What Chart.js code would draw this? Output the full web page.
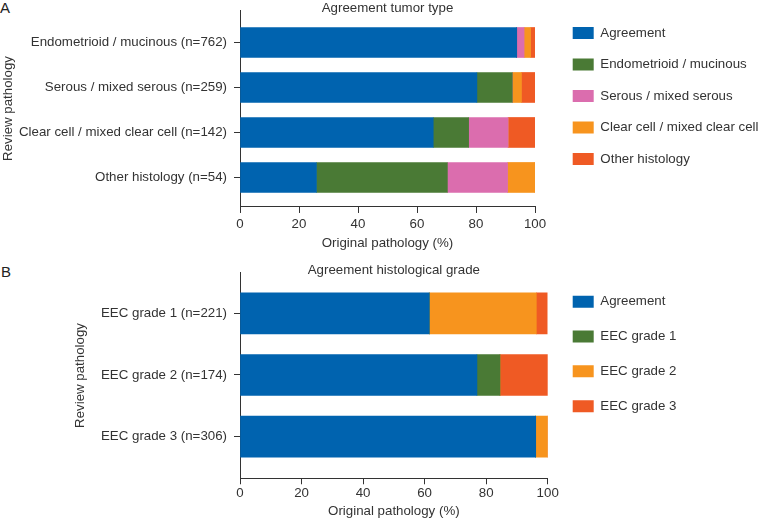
<!DOCTYPE html>
<html>
<head>
<meta charset="utf-8">
<script src="https://cdn.jsdelivr.net/npm/chart.js@4"></script>
<style>
  html, body { margin: 0; padding: 0; background: #ffffff; }
  body { width: 760px; height: 520px; position: relative; overflow: hidden; font-family: "Liberation Sans", Arial, sans-serif; }
  canvas { position: absolute; left: 0; }
  #cA { top: 0; }
  #cB { top: 250px; }
  .panel { position: absolute; font-size: 15px; line-height: 15px; color: #222; }
</style>
</head>
<body>
<div class="panel" style="left:0px;top:0px;">A</div>
<div class="panel" style="left:1px;top:264px;">B</div>
<canvas id="cA" width="760" height="255"></canvas>
<canvas id="cB" width="760" height="270"></canvas>
<script>
// ---------- Data: panel A (tumor type) ----------
const categoriesA = [
  'Endometrioid / mucinous (n=762)',
  'Serous / mixed serous (n=259)',
  'Clear cell / mixed clear cell (n=142)',
  'Other histology (n=54)'
];
const seriesNamesA = ['Agreement', 'Endometrioid / mucinous', 'Serous / mixed serous', 'Clear cell / mixed clear cell', 'Other histology'];
const agreementA   = [93.8, 80.3, 65.5, 25.9];
const endometrioidA = [0, 12.0, 12.0, 44.4];
const serousA      = [2.5, 0, 13.4, 20.4];
const clearCellA   = [2.2, 3.1, 0, 9.3];
const otherA       = [1.4, 4.6, 9.2, 0];

// ---------- Data: panel B (histological grade) ----------
const categoriesB = [
  'EEC grade 1 (n=221)',
  'EEC grade 2 (n=174)',
  'EEC grade 3 (n=306)'
];
const seriesNamesB = ['Agreement', 'EEC grade 1', 'EEC grade 2', 'EEC grade 3'];
const agreementB = [61.5, 77.0, 96.1];
const grade1B    = [0, 7.5, 0];
const grade2B    = [34.8, 0, 3.9];
const grade3B    = [3.6, 15.5, 0];

const xTicks = [0, 20, 40, 60, 80, 100];

// ---------- Styling ----------
const COLORS = {
  blue: '#0063AF',
  green: '#4A7A35',
  pink: '#DB6DAE',
  orange: '#F7941E',
  red: '#EF5A24'
};
const TEXT = '#333333';
const AXIS = '#333333';
const FS = 13.3;

Chart.defaults.font.family = '"Liberation Sans", Arial, Helvetica, sans-serif';
Chart.defaults.font.size = FS;
Chart.defaults.color = TEXT;

const legendPlace = {
  id: 'legendPlace',
  afterLayout(chart, args, opts) {
    const lg = chart.legend;
    if (!lg) return;
    const pad = lg.options.labels.padding;
    const w = lg.width, h = lg.height;
    lg.left = opts.x - pad;
    lg.top = opts.y - pad;
    lg.right = lg.left + w;
    lg.bottom = lg.top + h;
  }
};

function makeDatasets(names, arrays, colors) {
  return names.map((name, k) => ({
    label: name,
    data: arrays[k].map((v, i) => ({ x: v, y: i })),
    backgroundColor: colors[k],
    borderWidth: 0
  }));
}

function makeChart(canvasId, cfg) {
  return new Chart(document.getElementById(canvasId), {
    type: 'bar',
    data: { datasets: makeDatasets(cfg.names, cfg.arrays, cfg.colors) },
    plugins: [legendPlace],
    options: {
      indexAxis: 'y',
      responsive: false,
      animation: false,
      devicePixelRatio: 1,
      datasets: { bar: { barThickness: cfg.barThickness } },
      layout: { padding: cfg.layoutPadding },
      scales: {
        x: {
          type: 'linear',
          stacked: true,
          min: 0,
          max: 100,
          offset: false,
          afterBuildTicks: (s) => { s.ticks = xTicks.map(v => ({ value: v })); },
          ticks: { padding: cfg.xTickPadding, color: TEXT, font: { size: FS } },
          grid: { offset: false, drawOnChartArea: false, drawTicks: true, tickLength: 6, color: AXIS },
          border: { display: true, color: AXIS, width: 1 },
          title: { display: true, text: 'Original pathology (%)', color: TEXT, font: { size: FS }, padding: cfg.xTitlePadding }
        },
        y: {
          type: 'linear',
          stacked: true,
          reverse: true,
          offset: false,
          min: cfg.yMin,
          max: cfg.yMax,
          afterBuildTicks: (s) => { s.ticks = cfg.categories.map((_, i) => ({ value: i })); },
          afterFit: (s) => { s.width = 240; s.paddingTop = 0; s.paddingBottom = 0; },
          ticks: { autoSkip: false, padding: 7, color: TEXT, font: { size: FS }, callback: (v) => cfg.categories[v] },
          grid: { offset: false, drawOnChartArea: false, drawTicks: true, tickLength: 6, color: AXIS },
          border: { display: true, color: AXIS, width: 1 },
          title: { display: true, text: 'Review pathology', color: TEXT, font: { size: FS }, padding: { top: cfg.yTitleOffset, bottom: 0 } }
        }
      },
      plugins: {
        title: {
          display: true,
          text: cfg.title,
          fullSize: false,
          color: TEXT,
          font: { size: FS, weight: 'normal' },
          padding: cfg.titlePadding
        },
        legend: {
          display: true,
          position: 'chartArea',
          align: 'start',
          labels: {
            boxWidth: 21,
            boxHeight: 12,
            padding: cfg.legendPadding,
            color: TEXT,
            font: { size: FS }
          }
        },
        legendPlace: { x: 572.7, y: cfg.legendY },
        tooltip: { enabled: false }
      }
    }
  });
}

makeChart('cA', {
  categories: categoriesA,
  names: seriesNamesA,
  arrays: [agreementA, endometrioidA, serousA, clearCellA, otherA],
  colors: [COLORS.blue, COLORS.green, COLORS.pink, COLORS.orange, COLORS.red],
  title: 'Agreement tumor type',
  barThickness: 30,
  yMin: -0.722,
  yMax: 3.656,
  layoutPadding: { left: 0, right: 225, top: 0, bottom: 3.7 },
  xTickPadding: 3,
  xTitlePadding: { top: 0.4, bottom: 0 },
  yTitleOffset: 0.3,
  titlePadding: { top: 0, bottom: -5.96 },
  legendPadding: 18.2,
  legendY: 26.35
});

makeChart('cB', {
  categories: categoriesB,
  names: seriesNamesB,
  arrays: [agreementB, grade1B, grade2B, grade3B],
  colors: [COLORS.blue, COLORS.green, COLORS.orange, COLORS.red],
  title: 'Agreement histological grade',
  barThickness: 41,
  yMin: -0.658,
  yMax: 2.674,
  layoutPadding: { left: 0, right: 212.3, top: 0, bottom: 0 },
  xTickPadding: 1,
  xTitlePadding: { top: 1.5, bottom: 0.3 },
  yTitleOffset: 72,
  titlePadding: { top: 12.02, bottom: -5.28 },
  legendPadding: 21.53,
  legendY: 45.05
});
</script>
</body>
</html>
